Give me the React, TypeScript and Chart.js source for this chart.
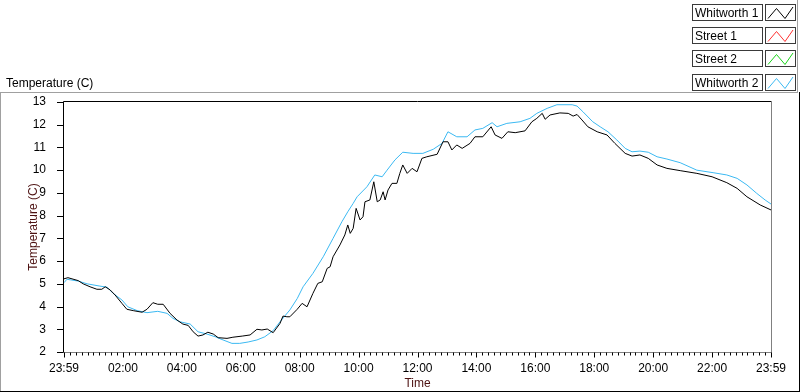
import { useEffect, useRef } from "react";
import { Chart, registerables } from "chart.js";

Chart.register(...registerables);

// ---------- data ----------
const xTickMinutes = [0, 120, 240, 360, 480, 600, 720, 840, 960, 1080, 1200, 1320, 1440];
const xTickLabels = ["23:59", "02:00", "04:00", "06:00", "08:00", "10:00", "12:00", "14:00", "16:00", "18:00", "20:00", "22:00", "23:59"];
const xMinorStep = 12;
const yTicks = [2, 3, 4, 5, 6, 7, 8, 9, 10, 11, 12, 13];

const seriesNames = ["Whitworth 1", "Street 1", "Street 2", "Whitworth 2"];
const seriesColors = ["#000000", "#ff3030", "#19d219", "#3bb9f2"];

// Whitworth 1 (minutes after 23:59, temperature C)
const w1Minutes = [0, 8, 29, 39, 53, 67, 77, 84, 94, 104, 118, 128, 141, 159, 169, 181, 191, 202, 216, 230, 242, 253, 263, 273, 283, 293, 304, 314, 332, 344, 363, 379, 393, 403, 414, 426, 440, 446, 454, 460, 475, 485, 495, 507, 517, 526, 536, 542, 548, 562, 572, 578, 583, 589, 595, 603, 609, 613, 623, 631, 638, 644, 650, 654, 660, 668, 678, 684, 690, 699, 709, 719, 729, 739, 760, 772, 782, 790, 800, 811, 827, 837, 853, 870, 878, 892, 904, 919, 939, 953, 963, 974, 980, 990, 1010, 1027, 1037, 1045, 1055, 1067, 1086, 1106, 1122, 1143, 1157, 1173, 1190, 1208, 1228, 1255, 1289, 1320, 1350, 1371, 1391, 1418, 1440];
const w1Temps = [5.22, 5.27, 5.14, 5.0, 4.87, 4.76, 4.76, 4.87, 4.73, 4.51, 4.14, 3.88, 3.82, 3.75, 3.88, 4.17, 4.1, 4.1, 3.7, 3.41, 3.23, 3.17, 2.89, 2.7, 2.75, 2.87, 2.79, 2.63, 2.6, 2.65, 2.7, 2.75, 3.0, 2.97, 3.01, 2.85, 3.26, 3.58, 3.55, 3.55, 3.88, 4.14, 3.99, 4.58, 5.02, 5.09, 5.68, 5.75, 6.19, 6.71, 7.15, 7.59, 7.22, 7.44, 8.32, 7.81, 7.95, 8.61, 8.69, 9.49, 8.61, 8.69, 9.05, 8.69, 9.13, 9.42, 9.42, 9.86, 10.23, 9.86, 10.08, 9.93, 10.52, 10.59, 10.7, 11.25, 11.25, 10.89, 11.11, 10.96, 11.18, 11.47, 11.47, 11.91, 11.55, 11.4, 11.69, 11.65, 11.73, 12.13, 12.28, 12.5, 12.24, 12.43, 12.52, 12.5, 12.38, 12.45, 12.21, 11.91, 11.69, 11.55, 11.18, 10.74, 10.62, 10.67, 10.52, 10.23, 10.08, 9.98, 9.86, 9.71, 9.45, 9.2, 8.83, 8.47, 8.25];

// Whitworth 2
const w2Minutes = [0, 6, 29, 47, 73, 88, 100, 118, 130, 149, 169, 191, 210, 222, 236, 257, 273, 291, 308, 324, 342, 358, 375, 393, 409, 426, 440, 460, 475, 487, 507, 528, 548, 566, 578, 589, 597, 617, 633, 648, 658, 674, 690, 711, 731, 752, 770, 782, 800, 821, 837, 853, 872, 882, 902, 929, 949, 963, 984, 1004, 1035, 1045, 1057, 1077, 1092, 1108, 1126, 1143, 1157, 1173, 1190, 1208, 1228, 1255, 1289, 1322, 1350, 1371, 1391, 1411, 1428, 1440];
const w2Temps = [5.05, 5.2, 5.12, 5.0, 4.9, 4.85, 4.58, 4.29, 3.99, 3.82, 3.73, 3.79, 3.7, 3.48, 3.33, 3.23, 2.89, 2.79, 2.67, 2.53, 2.38, 2.38, 2.44, 2.53, 2.67, 2.94, 3.33, 3.85, 4.35, 4.87, 5.46, 6.19, 7.0, 7.73, 8.17, 8.54, 8.83, 9.27, 9.79, 9.71, 10.0, 10.45, 10.79, 10.74, 10.74, 10.92, 11.18, 11.69, 11.47, 11.47, 11.77, 11.84, 12.09, 11.91, 12.06, 12.13, 12.28, 12.5, 12.72, 12.88, 12.88, 12.82, 12.57, 12.13, 11.91, 11.69, 11.33, 10.96, 10.81, 10.84, 10.79, 10.59, 10.49, 10.33, 10.0, 9.89, 9.79, 9.64, 9.35, 8.98, 8.69, 8.51];

const FONT = "'Liberation Sans', Arial, sans-serif";
const TITLE_COLOR = "#4d1212";

const toPoints = (xs: number[], ys: number[]) => xs.map((x, i) => ({ x, y: ys[i] }));

const framePlugin = {
  id: "labviewFrame",
  afterDraw(chart: any) {
    const ctx: CanvasRenderingContext2D = chart.ctx;
    const a = chart.chartArea;
    const xs = chart.scales.x;
    const ys = chart.scales.y;
    const W = chart.width;
    const H = chart.height;
    ctx.save();
    ctx.lineWidth = 1;

    const line = (x1: number, y1: number, x2: number, y2: number, c: string) => {
      ctx.strokeStyle = c;
      ctx.beginPath();
      ctx.moveTo(x1, y1);
      ctx.lineTo(x2, y2);
      ctx.stroke();
    };

    // outer frame
    line(0, 92.5, W - 2, 92.5, "#a0a0a0");
    line(0.5, 92, 0.5, H, "#a0a0a0");
    line(W - 0.5, 92, W - 0.5, H, "#000000");
    line(0, H - 0.5, W, H - 0.5, "#000000");
    line(W - 2.5, 0, W - 2.5, 92, "#a0a0a0");

    // plot label
    ctx.font = `12px ${FONT}`;
    ctx.fillStyle = "#000";
    ctx.textBaseline = "alphabetic";
    ctx.textAlign = "left";
    ctx.fillText("Temperature (C)", 6, 87);

    // plot border
    const L = Math.round(a.left) - 0.5;
    const T = Math.round(a.top) - 0.5;
    const R = Math.round(a.right) + 0.5;
    const B = Math.round(a.bottom) + 0.5;
    line(L, T, R, T, "#000000");
    line(L, T, L, B, "#000000");
    line(R, T, R, B + 0.5, "#808080");
    line(L, B, R, B, "#808080");

    // y ticks
    yTicks.forEach((v) => {
      const py = Math.round(ys.getPixelForValue(v)) + 0.5;
      line(57, py, L, py, "#000");
    });

    // x ticks
    for (let m = xs.min; m <= xs.max; m += xMinorStep) {
      const px = Math.round(xs.getPixelForValue(m)) + 0.5;
      const major = xTickMinutes.includes(m);
      line(px, B, px, B + (major ? 5 : 3), "#000");
    }

    // legend
    const tops = [4, 27, 50, 74];
    chart.data.datasets.forEach((ds: any, i: number) => {
      const t = tops[i] + 0.5;
      ctx.strokeStyle = "#3a3a3a";
      ctx.strokeRect(692.5, t, 70, 16);
      ctx.strokeRect(765.5, t, 30, 16);
      ctx.fillStyle = "#000";
      ctx.font = `12px ${FONT}`;
      ctx.textBaseline = "alphabetic";
      ctx.fillText(ds.label, 695, t + 12.5);
      ctx.strokeStyle = ds.borderColor;
      ctx.beginPath();
      ctx.moveTo(768, t + 14);
      ctx.lineTo(776.5, t + 4);
      ctx.lineTo(785, t + 14);
      ctx.lineTo(793, t + 2.5);
      ctx.stroke();
    });

    ctx.restore();
  },
};

export default function App() {
  const ref = useRef<HTMLCanvasElement | null>(null);

  useEffect(() => {
    if (!ref.current) return;
    Chart.defaults.font.family = FONT;
    Chart.defaults.font.size = 12;
    const dataSets = [
      toPoints(w1Minutes, w1Temps),
      [],
      [],
      toPoints(w2Minutes, w2Temps),
    ];
    const chart = new Chart(ref.current, {
      type: "line",
      data: {
        datasets: seriesNames.map((name, i) => ({
          label: name,
          data: dataSets[i] as any,
          borderColor: seriesColors[i],
          backgroundColor: seriesColors[i],
          borderWidth: 1,
          pointRadius: 0,
          tension: 0,
          fill: false,
        })),
      },
      options: {
        responsive: false,
        animation: false,
        devicePixelRatio: 1,
        layout: { padding: { left: 0, top: 102, right: 29, bottom: 0 } },
        plugins: { legend: { display: false }, tooltip: { enabled: false } },
        scales: {
          x: {
            type: "linear",
            min: xTickMinutes[0],
            max: xTickMinutes[xTickMinutes.length - 1],
            grid: { display: false },
            border: { display: false },
            afterBuildTicks: (s: any) => {
              s.ticks = xTickMinutes.map((v) => ({ value: v }));
            },
            afterFit: (s: any) => {
              s.height = 40;
            },
            ticks: {
              autoSkip: false,
              maxRotation: 0,
              minRotation: 0,
              padding: 1,
              color: "#000",
              font: { size: 12, family: FONT },
              callback: (v: any) => {
                const idx = xTickMinutes.indexOf(Number(v));
                return idx >= 0 ? xTickLabels[idx] : "";
              },
            },
            title: {
              display: true,
              text: "Time",
              color: TITLE_COLOR,
              font: { size: 12, family: FONT },
              padding: { top: 0, bottom: 1 },
            },
          },
          y: {
            min: yTicks[0],
            max: yTicks[yTicks.length - 1],
            grid: { display: false },
            border: { display: false },
            afterBuildTicks: (s: any) => {
              s.ticks = yTicks.map((v) => ({ value: v }));
            },
            afterFit: (s: any) => {
              s.width = 64;
            },
            ticks: {
              padding: 10,
              color: "#000",
              font: { size: 12, family: FONT },
              callback: (v: any) => String(v),
            },
            title: {
              display: true,
              text: "Temperature (C)",
              color: TITLE_COLOR,
              font: { size: 12, family: FONT },
              padding: { top: 26, bottom: 0 },
            },
          },
        },
      },
      plugins: [framePlugin],
    });
    return () => chart.destroy();
  }, []);

  return (
    <div style={{ position: "fixed", left: 0, top: 0, width: 800, height: 392, background: "#fff" }}>
      <canvas ref={ref} width={800} height={392} style={{ display: "block" }} />
    </div>
  );
}
